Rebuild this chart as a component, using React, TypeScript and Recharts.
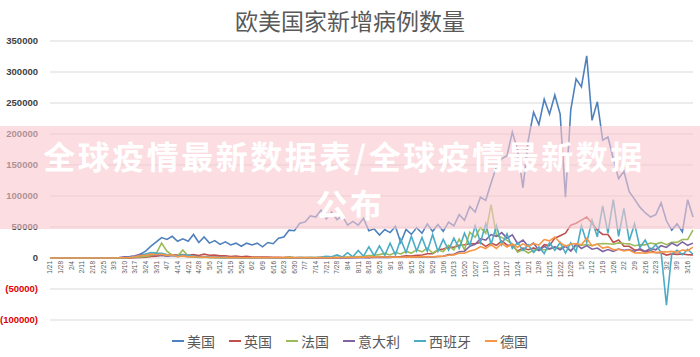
import React from 'react';
import { LineChart, Line, XAxis, YAxis, CartesianGrid } from 'recharts';

// ---------- data (daily new cases, thousands; two samples per week: Tue, Fri) ----------
const weekLabels = ['1/21','1/28','2/4','2/11','2/18','2/25','3/3','3/10','3/17','3/24','3/31','4/7','4/14','4/21','4/28','5/5','5/12','5/19','5/26','6/2','6/9','6/16','6/23','6/30','7/7','7/14','7/21','7/28','8/4','8/11','8/18','8/25','9/1','9/8','9/15','9/22','9/29','10/6','10/13','10/20','10/27','11/3','11/10','11/17','11/24','12/1','12/8','12/15','12/22','12/29','1/5','1/12','1/19','1/26','2/2','2/9','2/16','2/23','3/2','3/9','3/16'];

const seriesNames = ['美国', '英国', '法国', '意大利', '西班牙', '德国'];
const seriesColors = ['#4F81BD', '#C0504D', '#9BBB59', '#8064A2', '#4BACC6', '#F79646'];

const usK = [0,0, 0,0, 0,0, 0,0, 0,0, 0,0,
  0.03,0.1, 0.3,0.8, 1.7,6, 11,19, 26,33,
  30,35, 27,31, 27,38, 25,34, 24,28,
  22,26, 21,24, 19,24, 21,24, 18,25,
  23,32, 34,45, 44,56, 58,68, 66,77,
  63,74, 62,68, 53,59, 53,64, 44,47,
  37,46, 41,51, 25,46, 38,49, 40,55,
  43,54, 43,58, 52,70, 61,83, 74,98,
  93,121, 147,160, 165,203, 174,113, 190,235,
  215,256, 232,263, 232,98, 239,289, 276,326,
  222,252, 190,195, 160,128, 140,107, 95,82,
  73,66, 70,89, 60,45, 55,42, 94,66];

const ukK = [0,0, 0,0, 0,0, 0,0, 0,0, 0,0,
  0,0.05, 0.1,0.2, 0.4,0.7, 1.4,2.5, 3,4.5,
  3.6,5.2, 4.6,5.6, 4.3,5.4, 4,6.2, 4.4,4.6,
  3.4,3.6, 2.4,3.3, 2,2.6, 1.6,1.6, 1.4,1.5,
  1.3,1.3, 0.9,1.4, 0.7,0.6, 0.6,0.8, 0.5,0.7,
  0.5,0.8, 0.6,0.9, 0.7,0.9, 1.1,1.4, 0.7,1.2,
  1.2,1.7, 1.3,1.9, 2.5,3.5, 3.1,4.3, 4.9,6.9,
  7.1,12.9, 14.5,17.5, 17.2,20.5, 21.3,23, 22.9,25,
  18.7,24, 20.4,27.3, 21,20.3, 11.3,16.1, 13.4,16.3,
  12.3,21.6, 20,32, 36,40, 53,56, 61,66,
  56,45, 38,38, 25,29, 19,19, 13,13.3,
  9.7,12, 8.5,8.5, 4.7,6.6, 5.8,6.6, 5.3,5.1];

const frK = [0,0, 0,0, 0,0, 0,0, 0,0, 0,0,
  0.05,0.2, 0.4,0.8, 1.1,1.8, 2.4,3.9, 7.5,24,
  11,4.5, 3,13, 2.7,1.5, 1,1.1, 0.6,0.6,
  0.8,0.6, 0.5,0.4, 0.3,0.3, 0.4,0.6, 0.4,0.5,
  0.4,0.5, 0.6,1.6, 0.5,0.6, 0.6,0.7, 0.6,0.8,
  1,1.1, 0.7,1.3, 1.6,1.6, 2.5,2.9, 3.8,4.5,
  5.4,7.4, 4.9,9, 6.5,10.6, 7.9,13.2, 10,16.1,
  8.1,12.8, 10.5,20.3, 12.9,30.6, 13.2,41.6, 33.4,49.2,
  40,86, 35.9,33.2, 28.4,22.9, 9.2,13.6, 8.1,12.7,
  13.7,13.4, 14.1,17.6, 15.7,20.3, 11.4,20, 20.5,21.7,
  19.8,22.6, 23.4,23.1, 22.1,24.4, 23.3,22.8, 19.8,21.2,
  21.2,24.1, 22.4,25.2, 21.5,25.4, 25.2,29.8, 29.9,45];

const itK = [0,0, 0,0, 0,0, 0,0, 0,0, 0.1,0.2,
  0.5,0.8, 1.8,2.5, 3.5,5.9, 5.2,6.2, 4.1,4.6,
  3,3.9, 2.7,3.5, 2.7,3, 2.1,1.9, 1.1,1.3,
  1.4,0.9, 0.8,0.7, 0.4,0.4, 0.3,0.5, 0.3,0.3,
  0.2,0.3, 0.2,0.2, 0.2,0.2, 0.2,0.3, 0.1,0.2,
  0.2,0.3, 0.2,0.4, 0.2,0.5, 0.4,0.6, 0.4,1.1,
  1,1.4, 1,1.7, 1.4,1.6, 1.2,1.6, 1.4,1.9,
  1.6,2.5, 2.7,5.4, 5.9,10, 11,19, 22,31,
  29,37.8, 35,40.9, 32,37.2, 23,29, 19,24,
  12,18.7, 14.8,17.9, 13.3,19, 11.2,22.2, 15.4,19.9,
  14.2,16.1, 10.5,13.6, 10.5,14.4, 12.6,13.7, 10.6,15.1,
  10.4,15.5, 13.3,19.9, 17,24, 19.7,26, 20.4,24];

const esK = [0,0, 0,0, 0,0, 0,0, 0,0, 0,0,
  0.05,0.2, 0.5,1.2, 2,3.5, 6.6,8.6, 7.8,7.4,
  5.5,4.6, 3,5.2, 4.2,3, 1.7,1.8, 1.1,1,
  0.6,0.6, 0.4,0.7, 0.2,0.3, 0.3,0.4, 0.3,0.4,
  0.3,0.4, 0.3,0.5, 0.4,0.6, 0.5,0.9, 0.9,1.5,
  2.6,2, 5,1.5, 8.5,1.9, 12,2.9, 18,3.7,
  19.4,4.4, 24,5, 30,8.8, 35,11.3, 33,10.7,
  38,11, 30,12.7, 32,15.2, 40,20, 52,25,
  55,22, 52,21.3, 39,15.4, 25,12.3, 21.2,8.7,
  17.7,7.2, 24.5,12.5, 24.8,8, 24.5,10, 52,25,
  61,34, 84,40, 94,35, 80,28, 55,17,
  29,12.5, 21.4,8.8, -76,6.4, 12.5,5.3, 13.8,6];

const deK = [0,0, 0,0, 0,0, 0,0, 0,0, 0,0,
  0.1,0.3, 0.4,0.9, 2,3.5, 4.5,6.3, 5.2,6.1,
  4.3,5.3, 2.1,3.4, 1.8,2.3, 1.3,1.6, 0.9,1.2,
  0.9,0.8, 0.6,0.6, 0.4,0.4, 0.3,0.4, 0.3,0.4,
  0.3,0.8, 0.6,0.5, 0.4,0.4, 0.4,0.5, 0.3,0.6,
  0.5,0.8, 0.6,0.9, 0.8,1.1, 1.2,1.4, 1.5,2,
  1.5,1.6, 1.2,1.5, 1.2,1.6, 1.4,1.9, 1.8,2.2,
  2,2.6, 2.9,4.5, 5.1,7.8, 7.6,11.3, 13.4,18.5,
  15.3,21.5, 15.3,23.5, 17.6,22.6, 17.3,22.8, 18.6,23.4,
  20.8,29.8, 27.7,33.8, 24.7,19, 22.5,22.9, 21.2,31.8,
  19.6,22.4, 15.9,17.9, 13.2,14, 11.3,12.9, 8.1,8.4,
  7.6,9.1, 8.9,9.9, 9.8,10.6, 9.3,12.8, 12,17.5];

const yTicks = [-100000, -50000, 0, 50000, 100000, 150000, 200000, 250000, 300000, 350000];

const title = '欧美国家新增病例数量';
const bannerLine1 = '全球疫情最新数据表/全球疫情最新数据';
const bannerLine2 = '公布';

// ---------- table ----------
const seriesK = [usK, ukK, frK, itK, esK, deK];
const UNIT = 1000;
const table = usK.map((_, i) => {
  const row: Record<string, number | string> = {
    idx: i,
    label: i % 2 === 0 ? weekLabels[i / 2] : '',
  };
  seriesNames.forEach((n, s) => {
    row[n] = seriesK[s][i] * UNIT;
  });
  return row;
});

// ---------- layout ----------
const W = 700;
const H = 357;
const PLOT_TOP = 41;
const PLOT_BOTTOM = 320;
const PLOT_RIGHT = 693;
const PLOT_LEFT = 50;
const Y_MIN = -100000;
const Y_MAX = 350000;
const Y_AXIS_W = 45;
const X_AXIS_H = 1;
const ZERO_Y = PLOT_TOP + ((PLOT_BOTTOM - PLOT_TOP) * Y_MAX) / (Y_MAX - Y_MIN);

const XTick = (props: any) => {
  const { x, payload } = props;
  const label = table[payload.value] ? (table[payload.value].label as string) : '';
  if (!label) return <g />;
  return (
    <text
      transform={`translate(${x},${ZERO_Y + 3}) rotate(-90)`}
      textAnchor="end"
      dy={2.4}
      fontSize={6.5}
      fill="#595959"
      fontFamily="'Liberation Sans', Arial, sans-serif"
    >
      {label}
    </text>
  );
};

const YTick = (props: any) => {
  const { x, y, payload } = props;
  const v = payload.value as number;
  const neg = v < 0;
  return (
    <text
      x={x}
      y={y}
      dy={3.4}
      textAnchor="end"
      fontSize={9.5}
      fontWeight="bold"
      fill={neg ? '#E00000' : '#404040'}
      fontFamily="'Liberation Sans', Arial, sans-serif"
    >
      {neg ? `(${-v})` : `${v}`}
    </text>
  );
};

const BANNER_FONT = 32;
const bannerText: React.CSSProperties = {
  position: 'absolute',
  left: 0,
  width: W,
  lineHeight: 1.45,
  textAlign: 'center',
  whiteSpace: 'nowrap',
  color: '#ffffff',
  fontFamily: "'Noto Sans CJK SC', sans-serif",
  fontWeight: 'bold',
  fontSize: BANNER_FONT,
  letterSpacing: 2.5,
};

export default function App() {
  return (
    <div style={{ position: 'absolute', left: 0, top: 0, width: W, height: H, background: '#fff', overflow: 'hidden' }}>
      <div
        style={{
          position: 'absolute',
          left: 0,
          top: 3,
          width: W,
          textAlign: 'center',
          fontFamily: "'Noto Sans CJK SC', sans-serif",
          fontSize: 23,
          lineHeight: '34px',
          color: '#595959',
        }}
      >
        {title}
      </div>
      <LineChart
        width={W}
        height={H}
        data={table}
        margin={{ top: PLOT_TOP, right: W - PLOT_RIGHT, bottom: H - PLOT_BOTTOM - X_AXIS_H, left: PLOT_LEFT - Y_AXIS_W }}
      >
        <CartesianGrid vertical={false} stroke="#d9d9d9" strokeWidth={1} />
        <XAxis
          dataKey="idx"
          type="category"
          interval={0}
          axisLine={false}
          tickLine={false}
          height={X_AXIS_H}
          tick={<XTick />}
        />
        <YAxis
          domain={[Y_MIN, Y_MAX]}
          ticks={yTicks}
          width={Y_AXIS_W}
          axisLine={false}
          tickLine={false}
          tickSize={0}
          tickMargin={12}
          tick={<YTick />}
          allowDataOverflow
        />
        {seriesNames.map((n, s) => (
          <Line
            key={n}
            type="linear"
            dataKey={n}
            stroke={seriesColors[s]}
            strokeWidth={1.6}
            dot={false}
            isAnimationActive={false}
          />
        ))}
      </LineChart>
      {/* legend */}
      <div
        style={{
          position: 'absolute',
          left: 0,
          top: 331,
          width: W,
          display: 'flex',
          justifyContent: 'center',
          gap: 14,
          fontFamily: "'Noto Sans CJK SC', sans-serif",
          fontSize: 14,
          lineHeight: '20px',
          color: '#595959',
        }}
      >
        {seriesNames.map((n, s) => (
          <div key={n} style={{ display: 'flex', alignItems: 'center' }}>
            <span style={{ display: 'inline-block', width: 12, height: 2, background: seriesColors[s], marginRight: 3 }} />
            <span>{n}</span>
          </div>
        ))}
      </div>
      {/* translucent banner */}
      <div
        style={{
          position: 'absolute',
          left: 0,
          top: 126,
          width: W,
          height: 103,
          background: 'rgba(250, 198, 205, 0.6)',
        }}
      />
      <div style={{ ...bannerText, top: 132, left: -6 }}>{bannerLine1}</div>
      <div style={{ ...bannerText, top: 180 }}>{bannerLine2}</div>
    </div>
  );
}
